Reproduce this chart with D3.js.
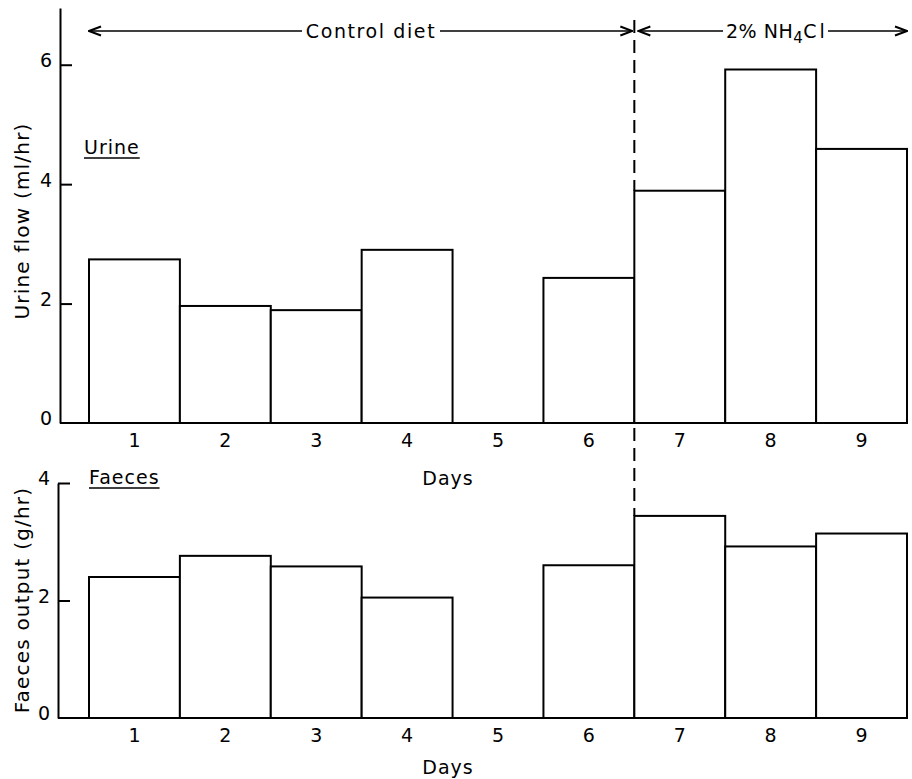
<!DOCTYPE html>
<html>
<head>
<meta charset="utf-8">
<script src="https://cdn.jsdelivr.net/npm/d3@7"></script>
<style>
  body { margin: 0; background: #fff; }
  svg text { font-family: "DejaVu Sans", sans-serif; fill: #000; }
</style>
</head>
<body>
<svg width="912" height="779"></svg>
<script>
var days = [1, 2, 3, 4, 5, 6, 7, 8, 9];
// day 5: no measurement
var urine = [2.74, 1.96, 1.89, 2.90, null, 2.43, 3.89, 5.92, 4.59];
var faeces = [2.40, 2.76, 2.58, 2.05, null, 2.60, 3.44, 2.92, 3.14];
var urineTicks = [0, 2, 4, 6];
var faecesTicks = [0, 2, 4];
var dietSplit = 6.5;

function intro() {
    var svg = d3.select("svg");

    var x = d3.scaleLinear().domain([0.5, 9.5]).range([89, 907]);
    var band = d3.scaleBand().domain(days).range([89, 907]).padding(0);

    var yTop = d3.scaleLinear().domain([0, 6.95]).range([423, 8]);
    var yBot = d3.scaleLinear().domain([0, 4]).range([718, 483]);

    // markers for arrowheads
    var defs = svg.append("defs");
    defs.append("marker")
        .attr("id", "head")
        .attr("viewBox", "-1 -6 14 12")
        .attr("refX", 12).attr("refY", 0)
        .attr("markerWidth", 14).attr("markerHeight", 12)
        .attr("markerUnits", "userSpaceOnUse")
        .attr("orient", "auto")
        .append("path")
        .attr("d", "M0,-4.5L12,0L0,4.5")
        .attr("fill", "none")
        .attr("stroke", "#000")
        .attr("stroke-width", 2);

    panel(svg, urine, yTop, urineTicks, x, band, 60);
    panel(svg, faeces, yBot, faecesTicks, x, band, 58);

    // dashed separator between diets
    var dash = svg.append("g")
        .attr("stroke", "#000")
        .attr("stroke-width", 2)
        .attr("stroke-dasharray", "13,7");
    dash.append("line")
        .attr("x1", x(dietSplit)).attr("x2", x(dietSplit))
        .attr("y1", 20).attr("y2", yTop(urine[6]));
    dash.append("line")
        .attr("x1", x(dietSplit)).attr("x2", x(dietSplit))
        .attr("y1", yTop(0) + 5).attr("y2", yBot(faeces[6]));

    // diet arrows
    var ay = 31;
    var arrows = [
        [302, x(0.5) ],
        [440, x(dietSplit) - 2],
        [723, x(dietSplit) + 4],
        [828, x(9.5)]
    ];
    svg.append("g").selectAll("line")
        .data(arrows)
        .enter().append("line")
        .attr("x1", function(d) { return d[0]; })
        .attr("x2", function(d) { return d[1]; })
        .attr("y1", ay).attr("y2", ay)
        .attr("stroke", "#000")
        .attr("stroke-width", 1.6)
        .attr("marker-end", "url(#head)");

    svg.append("text")
        .attr("x", 371).attr("y", ay + 7)
        .attr("text-anchor", "middle")
        .attr("font-size", 19)
        .attr("letter-spacing", 1.6)
        .text("Control diet");

    var nh = svg.append("text")
        .attr("x", 726).attr("y", ay + 7)
        .attr("font-size", 19)
        .attr("letter-spacing", 0.5);
    nh.append("tspan").text("2% NH");
    nh.append("tspan").attr("font-size", 15).attr("dy", 5).text("4");
    nh.append("tspan").attr("dy", -5).attr("letter-spacing", 3).text("Cl");

    // panel labels
    label(svg, "Urine", 84, 154);
    label(svg, "Faeces", 89, 484);

    // axis titles
    svg.append("text")
        .attr("transform", "translate(29,221) rotate(-90)")
        .attr("text-anchor", "middle")
        .attr("font-size", 20)
        .attr("letter-spacing", 1.2)
        .text("Urine flow (ml/hr)");
    svg.append("text")
        .attr("transform", "translate(29,600) rotate(-90)")
        .attr("text-anchor", "middle")
        .attr("font-size", 20)
        .attr("letter-spacing", 1.2)
        .text("Faeces output (g/hr)");

    svg.append("text")
        .attr("x", 448).attr("y", 485)
        .attr("text-anchor", "middle")
        .attr("font-size", 19)
        .attr("letter-spacing", 1)
        .text("Days");
    svg.append("text")
        .attr("x", 448).attr("y", 774)
        .attr("text-anchor", "middle")
        .attr("font-size", 19)
        .attr("letter-spacing", 1)
        .text("Days");
}

function panel(svg, values, y, ticks, x, band, axisX) {
    var g = svg.append("g");

    g.selectAll("rect")
        .data(days.filter(function(d, i) { return values[i] != null; }))
        .enter().append("rect")
        .attr("x", function(d) { return x(d - 0.5); })
        .attr("width", function(d) { return x(d + 0.5) - x(d - 0.5); })
        .attr("y", function(d) { return y(values[d - 1]); })
        .attr("height", function(d) { return y(0) - y(values[d - 1]); })
        .attr("fill", "#fff")
        .attr("stroke", "#000")
        .attr("stroke-width", 2);

    // baseline
    g.append("line")
        .attr("x1", axisX).attr("x2", x(9.5))
        .attr("y1", y(0)).attr("y2", y(0))
        .attr("stroke", "#000")
        .attr("stroke-width", 2);

    var yAxis = d3.axisLeft(y)
        .tickValues(ticks)
        .tickFormat(d3.format("d"))
        .tickSizeInner(-12)
        .tickSizeOuter(0)
        .tickPadding(8);
    var ya = g.append("g")
        .attr("transform", "translate(" + axisX + ",0)")
        .call(yAxis);
    ya.selectAll("path, line").attr("stroke", "#000").attr("stroke-width", 2);
    ya.selectAll(".tick").filter(function(d) { return d === 0; }).select("line").remove();
    ya.selectAll("text").attr("font-size", 19).attr("font-family", "DejaVu Sans, sans-serif").attr("dy", "0.1em");

    var xAxis = d3.axisBottom(band)
        .tickSize(0)
        .tickPadding(11);
    var xa = g.append("g")
        .attr("transform", "translate(0," + y(0) + ")")
        .call(xAxis);
    xa.select(".domain").remove();
    xa.selectAll("text").attr("font-size", 19).attr("font-family", "DejaVu Sans, sans-serif");
}

function label(svg, txt, lx, ly) {
    var t = svg.append("text")
        .attr("x", lx).attr("y", ly)
        .attr("font-size", 19)
        .attr("letter-spacing", 1)
        .text(txt);
    var w = t.node().getComputedTextLength();
    svg.append("line")
        .attr("x1", lx).attr("x2", lx + w)
        .attr("y1", ly + 4).attr("y2", ly + 4)
        .attr("stroke", "#000")
        .attr("stroke-width", 1.5);
}

window.onload = intro;
</script>
</body>
</html>
